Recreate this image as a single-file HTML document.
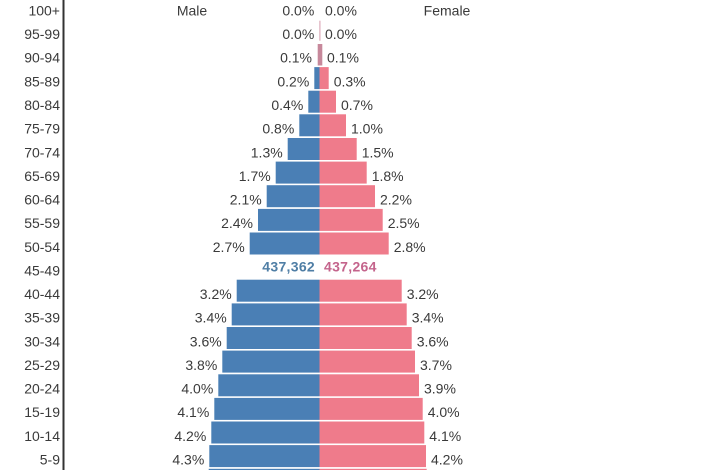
<!DOCTYPE html>
<html><head><meta charset="utf-8"><style>
html,body{margin:0;padding:0;background:#fff;}
svg{display:block;}
text{font-family:"Liberation Sans",Arial,sans-serif;font-size:14px;fill:#3a3a3a;}
</style></head><body>
<svg width="706" height="470" viewBox="0 0 706 470" xmlns="http://www.w3.org/2000/svg">
<rect x="0" y="0" width="706" height="470" fill="#fff"/>
<rect x="62.5" y="0" width="2" height="470" fill="#333"/>
<text x="192" y="15.5" text-anchor="middle">Male</text>
<text x="447" y="15.5" text-anchor="middle">Female</text>
<g text-anchor="end">
<text x="60" y="15.5">100+</text>
<text x="60" y="39.1">95-99</text>
<text x="60" y="62.7">90-94</text>
<text x="60" y="86.4">85-89</text>
<text x="60" y="110">80-84</text>
<text x="60" y="133.6">75-79</text>
<text x="60" y="157.3">70-74</text>
<text x="60" y="180.9">65-69</text>
<text x="60" y="204.5">60-64</text>
<text x="60" y="228.2">55-59</text>
<text x="60" y="251.8">50-54</text>
<text x="60" y="275.4">45-49</text>
<text x="60" y="299.1">40-44</text>
<text x="60" y="322.7">35-39</text>
<text x="60" y="346.3">30-34</text>
<text x="60" y="369.9">25-29</text>
<text x="60" y="393.6">20-24</text>
<text x="60" y="417.2">15-19</text>
<text x="60" y="440.8">10-14</text>
<text x="60" y="464.5">5-9</text>
</g>
<g fill="#4a7fb5">
<rect x="314.3" y="67.1" width="5.2" height="22"/>
<rect x="308.3" y="90.7" width="11.2" height="22"/>
<rect x="299.3" y="114.3" width="20.2" height="22"/>
<rect x="287.7" y="138" width="31.8" height="22"/>
<rect x="275.7" y="161.6" width="43.8" height="22"/>
<rect x="266.7" y="185.2" width="52.8" height="22"/>
<rect x="258" y="208.9" width="61.5" height="22"/>
<rect x="249.7" y="232.5" width="69.8" height="22"/>
<rect x="236.7" y="279.7" width="82.8" height="22"/>
<rect x="231.7" y="303.4" width="87.8" height="22"/>
<rect x="226.7" y="327" width="92.8" height="22"/>
<rect x="222.3" y="350.6" width="97.2" height="22"/>
<rect x="218.3" y="374.3" width="101.2" height="22"/>
<rect x="214.3" y="397.9" width="105.2" height="22"/>
<rect x="211.3" y="421.5" width="108.2" height="22"/>
<rect x="209.3" y="445.1" width="110.2" height="22"/>
<rect x="208.7" y="468.8" width="110.8" height="22"/>
</g>
<g fill="#ef7b8b">
<rect x="319.5" y="67.1" width="9.2" height="22"/>
<rect x="319.5" y="90.7" width="16.5" height="22"/>
<rect x="319.5" y="114.3" width="26.5" height="22"/>
<rect x="319.5" y="138" width="37.2" height="22"/>
<rect x="319.5" y="161.6" width="47.2" height="22"/>
<rect x="319.5" y="185.2" width="55.5" height="22"/>
<rect x="319.5" y="208.9" width="63.2" height="22"/>
<rect x="319.5" y="232.5" width="69.2" height="22"/>
<rect x="319.5" y="279.7" width="82.2" height="22"/>
<rect x="319.5" y="303.4" width="87.2" height="22"/>
<rect x="319.5" y="327" width="92.2" height="22"/>
<rect x="319.5" y="350.6" width="95.5" height="22"/>
<rect x="319.5" y="374.3" width="99.5" height="22"/>
<rect x="319.5" y="397.9" width="103.2" height="22"/>
<rect x="319.5" y="421.5" width="104.8" height="22"/>
<rect x="319.5" y="445.1" width="106.5" height="22"/>
<rect x="319.5" y="468.8" width="107.2" height="22"/>
</g>
<rect x="317.7" y="44" width="4.6" height="21.5" fill="#c7889b"/>
<rect x="319.3" y="20.7" width="1.2" height="20" fill="#dcaab8"/>
<g text-anchor="end">
<text x="314.3" y="15.5">0.0%</text>
<text x="314.3" y="39.1">0.0%</text>
<text x="312" y="62.7">0.1%</text>
<text x="309.3" y="86.4">0.2%</text>
<text x="303.3" y="110">0.4%</text>
<text x="294.3" y="133.6">0.8%</text>
<text x="282.7" y="157.3">1.3%</text>
<text x="270.7" y="180.9">1.7%</text>
<text x="261.7" y="204.5">2.1%</text>
<text x="253" y="228.2">2.4%</text>
<text x="244.7" y="251.8">2.7%</text>
<text x="231.7" y="299.1">3.2%</text>
<text x="226.7" y="322.7">3.4%</text>
<text x="221.7" y="346.3">3.6%</text>
<text x="217.3" y="369.9">3.8%</text>
<text x="213.3" y="393.6">4.0%</text>
<text x="209.3" y="417.2">4.1%</text>
<text x="206.3" y="440.8">4.2%</text>
<text x="204.3" y="464.5">4.3%</text>
</g>
<g text-anchor="start">
<text x="325" y="15.5">0.0%</text>
<text x="325" y="39.1">0.0%</text>
<text x="327" y="62.7">0.1%</text>
<text x="333.7" y="86.4">0.3%</text>
<text x="341" y="110">0.7%</text>
<text x="351" y="133.6">1.0%</text>
<text x="361.7" y="157.3">1.5%</text>
<text x="371.7" y="180.9">1.8%</text>
<text x="380" y="204.5">2.2%</text>
<text x="387.7" y="228.2">2.5%</text>
<text x="393.7" y="251.8">2.8%</text>
<text x="406.7" y="299.1">3.2%</text>
<text x="411.7" y="322.7">3.4%</text>
<text x="416.7" y="346.3">3.6%</text>
<text x="420" y="369.9">3.7%</text>
<text x="424" y="393.6">3.9%</text>
<text x="427.7" y="417.2">4.0%</text>
<text x="429.3" y="440.8">4.1%</text>
<text x="431" y="464.5">4.2%</text>
</g>
<text x="315" y="271.7" text-anchor="end" style="font-weight:bold;fill:#4f7ea5;letter-spacing:0.3px">437,362</text>
<text x="324" y="271.7" text-anchor="start" style="font-weight:bold;fill:#c4648c;letter-spacing:0.3px">437,264</text>
</svg>
</body></html>
